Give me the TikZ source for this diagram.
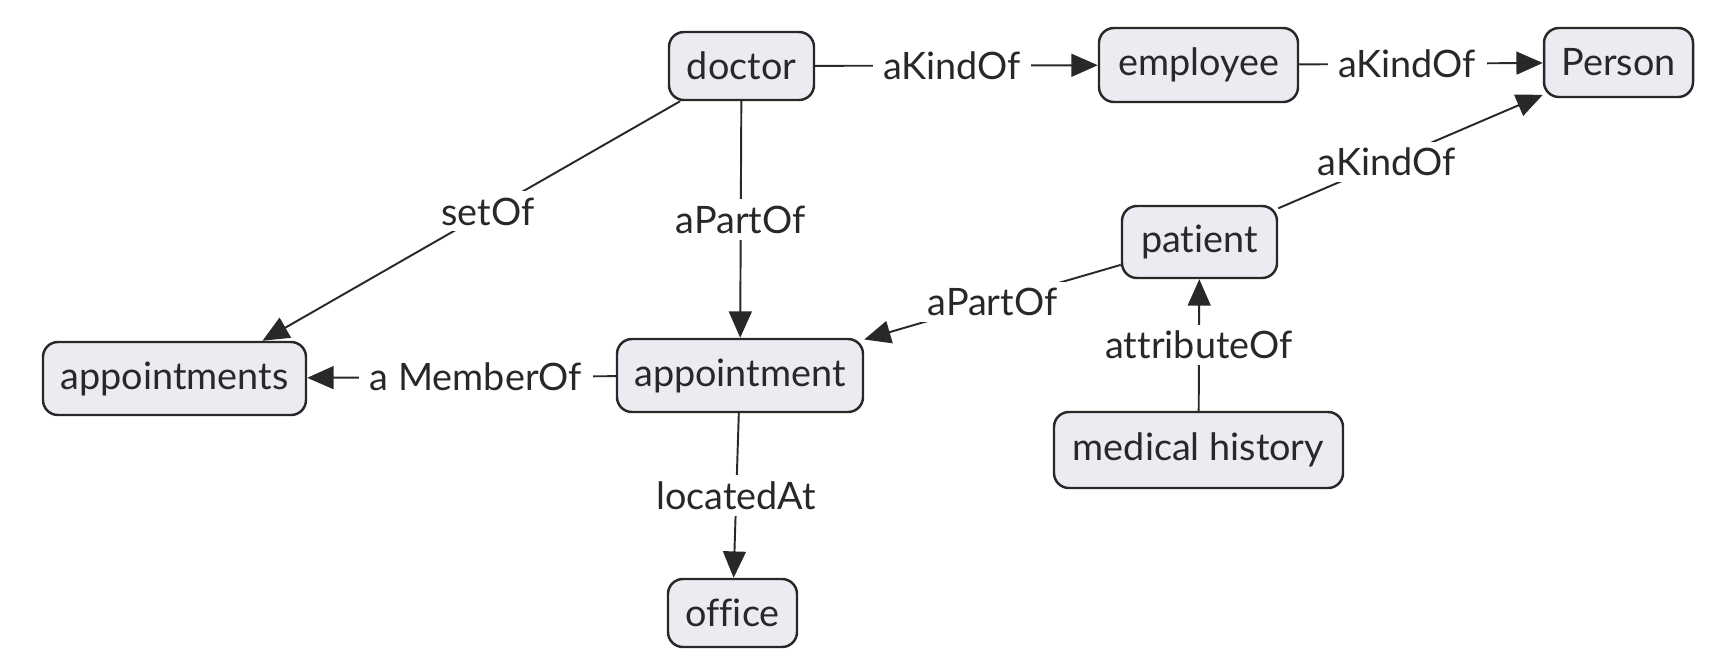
\documentclass[tikz,border=0pt]{standalone}
\usepackage{fontspec}
\setmainfont{Lato}[Ligatures={NoCommon,NoDiscretionary,NoRare}]
\usetikzlibrary{arrows.meta,calc}
\definecolor{boxfill}{RGB}{234,236,241}
\definecolor{ink}{RGB}{40,40,40}
\begin{document}
\begin{tikzpicture}[x=0.02cm,y=-0.02cm,
  box/.style={draw=ink, fill=boxfill, rounded corners=8.5pt, line width=1.4pt, inner sep=0pt, font=\fontsize{21.5}{26}\selectfont, text=ink},
  lbl/.style={fill=white, inner xsep=6pt, inner ysep=3.5pt, font=\fontsize{21.5}{26}\selectfont, text=ink},
  conn/.style={draw=ink, line width=1.1pt, -{Triangle[length=15pt,width=13pt]}}
]
\useasboundingbox (0,0) rectangle (1720,664);
\fill[white] (0,0) rectangle (1720,664);

\node[box, minimum width=145*0.02cm, minimum height=68*0.02cm] (doctor) at (741.5,66) {doctor};
\node[box, minimum width=199*0.02cm, minimum height=74*0.02cm] (employee) at (1198.5,65) {employee};
\node[box, minimum width=149*0.02cm, minimum height=69*0.02cm] (person) at (1618.5,62.5) {Person};
\node[box, minimum width=155*0.02cm, minimum height=72*0.02cm] (patient) at (1199.5,242) {patient};
\node[box, minimum width=263*0.02cm, minimum height=73*0.02cm] (appts) at (174.5,378.5) {appointments};
\node[box, minimum width=246*0.02cm, minimum height=73*0.02cm] (appt) at (740,375.5) {appointment};
\node[box, minimum width=289*0.02cm, minimum height=76*0.02cm] (medhist) at (1198.5,450) {medical history};
\node[box, minimum width=129*0.02cm, minimum height=68*0.02cm] (office) at (732.5,613) {office};

\coordinate (setend) at ($(appts.north)+(88,0)$);

\draw[conn] (doctor) -- node[lbl,pos=0.484]{aKindOf} (employee);
\draw[conn] (employee) -- node[lbl,pos=0.443]{aKindOf} (person);
\draw[conn] (doctor) -- node[lbl,pos=0.46]{setOf} (setend);
\draw[conn] (doctor) -- node[lbl]{aPartOf} (appt);
\draw[conn] (appt) -- node[lbl,pos=0.453]{a MemberOf} (appts);
\draw[conn] (patient) -- node[lbl]{aPartOf} (appt);
\draw[conn] (patient) -- node[lbl,pos=0.41]{aKindOf} (person);
\draw[conn] (medhist) -- node[lbl]{attributeOf} (patient);
\draw[conn] (appt) -- node[lbl]{locatedAt} (office);
\end{tikzpicture}
\end{document}
